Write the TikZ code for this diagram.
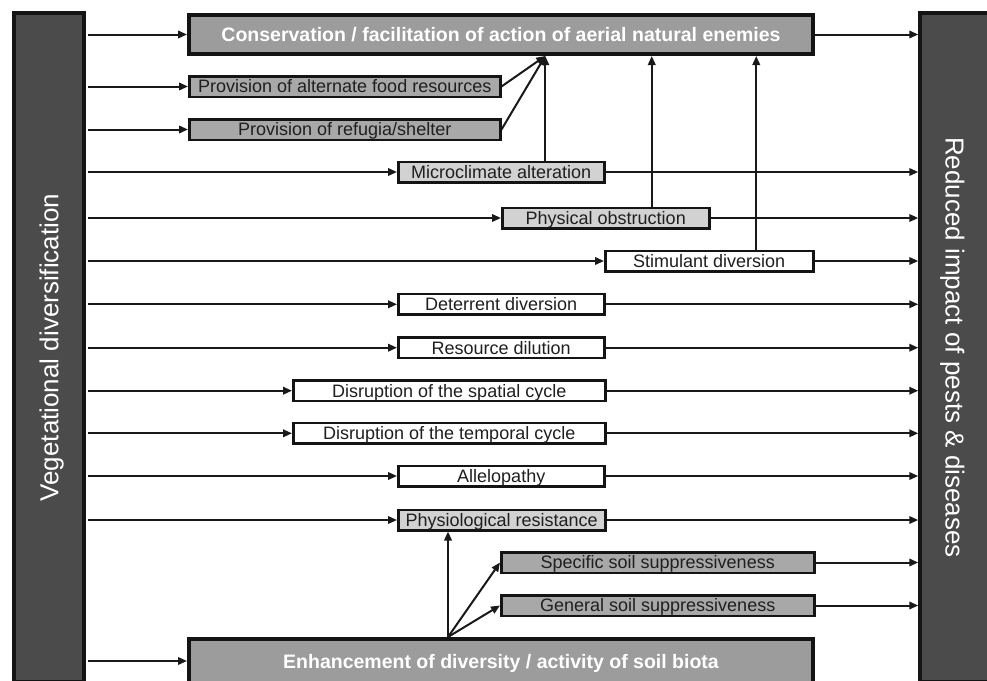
\documentclass[tikz,border=0pt]{standalone}
\usepackage{fontspec}
\setmainfont{Liberation Sans}
\usepackage{tikz}
\usetikzlibrary{arrows.meta}
\usetikzlibrary{positioning}

\definecolor{bardark}{HTML}{4B4B4B}
\definecolor{boxmid}{HTML}{9C9C9C}
\definecolor{boxgray}{HTML}{A8A8A8}
\definecolor{boxlight}{HTML}{D2D2D2}

\tikzset{
	sidebar/.style={draw=black!92, line width=3.5pt, fill=bardark, text=white, minimum width=669pt, minimum height=70pt, inner sep=0pt, text height=18.6pt, text depth=0pt, font=\fontsize{26}{30}\selectfont},
	mainbox/.style={draw=black!92, line width=4pt, fill=boxmid, text=white, anchor=west, minimum width=624pt, minimum height=39pt, inner sep=0pt, text height=14pt, text depth=0pt, font=\bfseries\fontsize{19.5}{22}\selectfont},
	effect/.style={draw=black!92, line width=2.5pt, anchor=west, minimum height=20.5pt, inner sep=0pt, text height=12.9pt, text depth=0pt, text=black!88, font=\fontsize{18}{20}\selectfont},
	conn/.style={line width=2pt, draw=black!90, -{Triangle[length=9pt,width=7.5pt]}},
	link/.style={line width=2pt}
}

\begin{document}
\begin{tikzpicture}[x=1pt, y=-1pt]

\useasboundingbox (0, 0) rectangle (987, 680);

% side bars
\node[sidebar, rotate=90] (veg) at (49, 347.5) {Vegetational diversification};
\node[sidebar, rotate=-90] (red) at (955, 347.5) {Reduced impact of pests \& diseases};

% mechanisms
\node[mainbox] (cons) at (187, 34.5) {Conservation / facilitation of action of aerial natural enemies};
\node[effect, fill=boxgray, minimum width=311pt] (food) at (188, 86.5) {Provision of alternate food resources};
\node[effect, fill=boxgray, minimum width=311pt] (shelter) at (188, 129.5) {Provision of refugia/shelter};
\node[effect, fill=boxlight, minimum width=206pt] (micro) at (397, 172) {Microclimate alteration};
\node[effect, fill=boxlight, minimum width=207pt] (obstr) at (501, 218) {Physical obstruction};
\node[effect, fill=white, minimum width=208pt] (stim) at (604, 261) {Stimulant diversion};
\node[effect, fill=white, minimum width=206pt] (deter) at (397, 304.3) {Deterrent diversion};
\node[effect, fill=white, minimum width=206pt] (dilut) at (397, 347.7) {Resource dilution};
\node[effect, fill=white, minimum width=312pt] (spatial) at (292, 390.7) {Disruption of the spatial cycle};
\node[effect, fill=white, minimum width=312pt] (temporal) at (292, 433.3) {Disruption of the temporal cycle};
\node[effect, fill=white, minimum width=206pt] (allelo) at (397, 476) {Allelopathy};
\node[effect, fill=boxlight, minimum width=207pt] (physio) at (397, 520) {Physiological resistance};
\node[effect, fill=boxgray, minimum width=313pt] (specific) at (500, 562.5) {Specific soil suppressiveness};
\node[effect, fill=boxgray, minimum width=313pt] (general) at (500, 605.5) {General soil suppressiveness};
\node[mainbox, minimum height=44pt] (enhance) at (187, 661) {Enhancement of diversity / activity of soil biota};

\coordinate (hub) at ([xshift=44pt]micro.north |- cons.south);
\coordinate (root) at ([xshift=261pt]enhance.north west);

% from vegetational diversification
\draw[conn] ([xshift=2pt]veg.south |- cons.west) -- (cons.west);
\draw[conn] ([xshift=2pt]veg.south |- food.west) -- (food.west);
\draw[conn] ([xshift=2pt]veg.south |- shelter.west) -- (shelter.west);
\draw[conn] ([xshift=2pt]veg.south |- micro.west) -- (micro.west);
\draw[conn] ([xshift=2pt]veg.south |- obstr.west) -- (obstr.west);
\draw[conn] ([xshift=2pt]veg.south |- stim.west) -- (stim.west);
\draw[conn] ([xshift=2pt]veg.south |- deter.west) -- (deter.west);
\draw[conn] ([xshift=2pt]veg.south |- dilut.west) -- (dilut.west);
\draw[conn] ([xshift=2pt]veg.south |- spatial.west) -- (spatial.west);
\draw[conn] ([xshift=2pt]veg.south |- temporal.west) -- (temporal.west);
\draw[conn] ([xshift=2pt]veg.south |- allelo.west) -- (allelo.west);
\draw[conn] ([xshift=2pt]veg.south |- physio.west) -- (physio.west);
\draw[conn] ([xshift=2pt]veg.south |- enhance.west) -- (enhance.west);

% towards reduced impact
\draw[conn] (cons.east) -- (red.south |- cons.east);
\draw[conn] (micro.east) -- (red.south |- micro.east);
\draw[conn] (obstr.east) -- (red.south |- obstr.east);
\draw[conn] (stim.east) -- (red.south |- stim.east);
\draw[conn] (deter.east) -- (red.south |- deter.east);
\draw[conn] (dilut.east) -- (red.south |- dilut.east);
\draw[conn] (spatial.east) -- (red.south |- spatial.east);
\draw[conn] (temporal.east) -- (red.south |- temporal.east);
\draw[conn] (allelo.east) -- (red.south |- allelo.east);
\draw[conn] (physio.east) -- (red.south |- physio.east);
\draw[conn] (specific.east) -- (red.south |- specific.east);
\draw[conn] (general.east) -- (red.south |- general.east);

% natural enemies
\draw[conn] (food.east) -- (hub);
\draw[conn] (shelter.east) -- (hub);
\draw[conn] (hub |- micro.north) -- (hub);
\draw[conn] ([xshift=46pt]obstr.north) -- ([xshift=46pt]obstr.north |- cons.south);
\draw[conn] ([xshift=47pt]stim.north) -- ([xshift=47pt]stim.north |- cons.south);

% soil biota
\draw[conn] (root) -- (root |- physio.south);
\draw[conn] (root) -- (specific.west);
\draw[conn] (root) -- (general.west);

\end{tikzpicture}
\end{document}
